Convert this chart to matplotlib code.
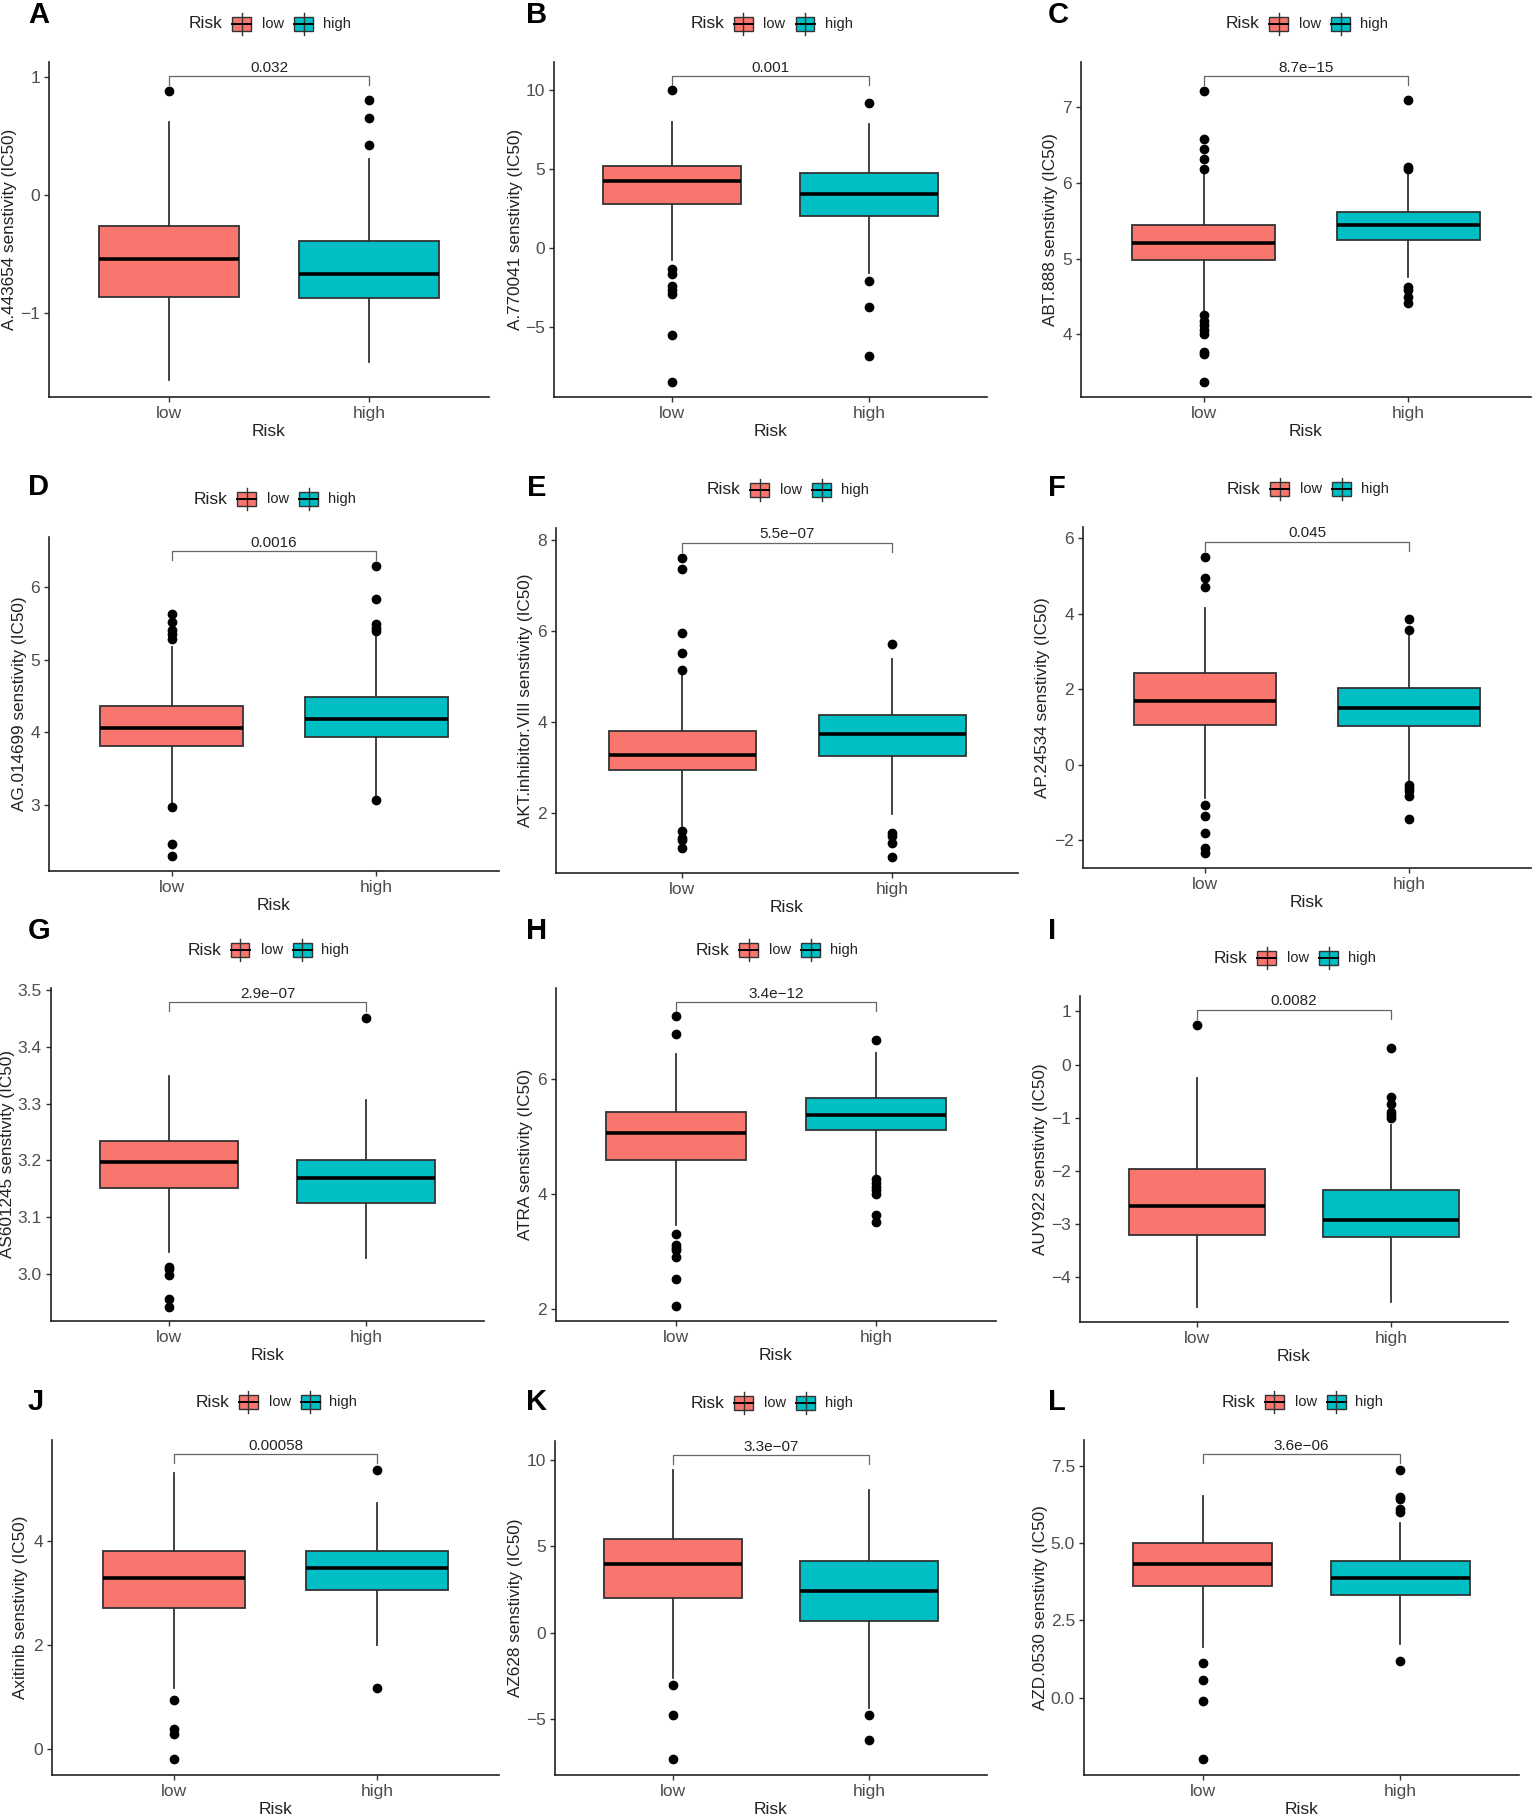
import matplotlib.pyplot as plt
from matplotlib.patches import Rectangle
from matplotlib.lines import Line2D

plt.rcParams['font.family'] = ['Liberation Sans', 'DejaVu Sans']

#==================================
# datos
#==================================
groups = ["low", "high"]
colors = ["#F8766D", "#00BFC4"]

letters = ["A", "B", "C", "D", "E", "F", "G", "H", "I", "J", "K", "L"]
drugs = ["A.443654", "A.770041", "ABT.888", "AG.014699", "AKT.inhibitor.VIII", "AP.24534",
         "AS601245", "ATRA", "AUY922", "Axitinib", "AZ628", "AZD.0530"]
p_values = ["0.032", "0.001", "8.7e\u221215", "0.0016", "5.5e\u221207", "0.045",
            "2.9e\u221207", "3.4e\u221212", "0.0082", "0.00058", "3.3e\u221207", "3.6e\u221206"]

# (whislo, q1, med, q3, whishi)
low_box = [(-1.57, -0.86, -0.545, -0.26, 0.62),
           (-0.72, 2.81, 4.29, 5.24, 8.0),
           (4.30, 4.98, 5.21, 5.45, 6.13),
           (3.02, 3.81, 4.06, 4.36, 5.18),
           (1.72, 2.94, 3.28, 3.81, 5.05),
           (-0.87, 1.05, 1.70, 2.44, 4.16),
           (3.039, 3.152, 3.198, 3.234, 3.349),
           (3.46, 4.60, 5.06, 5.43, 6.44),
           (-4.55, -3.21, -2.66, -1.97, -0.25),
           (1.16, 2.70, 3.28, 3.81, 5.30),
           (-2.62, 1.98, 3.99, 5.40, 9.42),
           (1.65, 3.62, 4.33, 5.0, 6.53)]
high_box = [(-1.41, -0.87, -0.67, -0.39, 0.30),
            (-1.56, 2.07, 3.47, 4.8, 7.86),
            (4.76, 5.25, 5.45, 5.62, 6.15),
            (3.12, 3.94, 4.19, 4.49, 5.34),
            (1.98, 3.24, 3.73, 4.15, 5.38),
            (-0.39, 1.03, 1.52, 2.03, 3.41),
            (3.028, 3.126, 3.169, 3.201, 3.307),
            (4.31, 5.12, 5.37, 5.67, 6.45),
            (-4.47, -3.25, -2.92, -2.35, -1.14),
            (2.0, 3.06, 3.47, 3.81, 4.72),
            (-4.35, 0.66, 2.43, 4.14, 8.27),
            (1.74, 3.33, 3.87, 4.41, 5.67)]

low_out = [[0.88],
           [10.0, -1.29, -1.6, -2.4, -2.6, -2.9, -5.45, -8.48],
           [7.22, 6.58, 6.45, 6.32, 6.19, 4.25, 4.18, 4.12, 4.05, 4.0, 3.77, 3.74, 3.37],
           [5.63, 5.52, 5.41, 5.36, 5.28, 2.97, 2.46, 2.3],
           [7.6, 7.36, 5.96, 5.51, 5.13, 1.6, 1.45, 1.4, 1.23],
           [5.51, 4.96, 4.71, -1.07, -1.36, -1.8, -2.2, -2.33],
           [3.013, 3.009, 2.998, 2.957, 2.943],
           [7.09, 6.79, 3.31, 3.12, 3.07, 3.03, 2.91, 2.53, 2.06],
           [0.75],
           [0.94, 0.37, 0.28, -0.21],
           [-3.06, -4.78, -7.34],
           [1.13, 0.59, -0.11, -1.99]]
high_out = [[0.805, 0.65, 0.42],
            [9.2, -2.03, -3.72, -6.83],
            [7.1, 6.21, 6.19, 4.62, 4.58, 4.49, 4.41],
            [6.29, 5.84, 5.49, 5.43, 5.39, 3.07],
            [5.71, 1.56, 1.5, 1.34, 1.04],
            [3.87, 3.58, -0.52, -0.61, -0.7, -0.83, -1.42],
            [3.45],
            [6.68, 4.26, 4.19, 4.13, 4.08, 4.01, 3.64, 3.52],
            [0.32, -0.61, -0.75, -0.9, -0.95, -1.01],
            [5.37, 1.16],
            [-4.8, -6.2],
            [7.37, 6.51, 6.42, 6.10, 6.02, 1.2]]

y_limits = [(-1.71, 1.125), (-9.4, 11.8), (3.17, 7.6), (2.09, 6.69),
            (0.68, 8.26), (-2.73, 6.3), (2.918, 3.503), (1.80, 7.58),
            (-4.84, 1.29), (-0.51, 5.94), (-8.25, 11.1), (-2.5, 8.34)]
y_ticks = [[-1, 0, 1], [-5, 0, 5, 10], [4, 5, 6, 7], [3, 4, 5, 6],
           [2, 4, 6, 8], [-2, 0, 2, 4, 6], [3.0, 3.1, 3.2, 3.3, 3.4, 3.5], [2, 4, 6],
           [-4, -3, -2, -1, 0, 1], [0, 2, 4], [-5, 0, 5, 10], [0.0, 2.5, 5.0, 7.5]]

#==================================
# layout (pixeles de la figura)
#==================================
W, H = 1535, 1817
# left, right, top, bottom de cada panel
axes_px = [(49, 489, 62, 397), (554, 987, 62, 397), (1081, 1531, 62, 397),
           (49, 499, 537, 871), (556, 1018, 528, 873), (1083, 1531, 527, 868),
           (51, 484, 988, 1321), (556, 996, 988, 1321), (1080, 1508, 996, 1322),
           (52, 499, 1440, 1775), (555, 987, 1441, 1775), (1084, 1519, 1440, 1775)]
letter_px = [(28, 15), (526, 15), (1048, 15), (28, 487), (527, 488), (1048, 488),
             (28, 931), (526, 931), (1048, 931), (28, 1402), (526, 1402), (1048, 1402)]
# distancia (px) entre el eje y el borde derecho del titulo del eje y
ylabel_gap = [32, 31, 23, 22, 23, 33, 36, 23, 32, 24, 32, 36]


def fx(x):
    return x / W


def fy(y):
    return 1 - y / H


def legend_key(fig, x0, yc, color):
    # caja pequena con mediana y bigotes, como la clave de ggplot
    w, h = 19, 14
    fig.add_artist(Line2D([fx(x0 + w / 2)] * 2, [fy(yc - h / 2 - 4), fy(yc + h / 2 + 4)],
                          transform=fig.transFigure, color='#333333', lw=1))
    fig.add_artist(Rectangle((fx(x0), fy(yc + h / 2)), w / W, h / H, transform=fig.transFigure,
                             facecolor=color, edgecolor='#333333', lw=1))
    fig.add_artist(Line2D([fx(x0), fx(x0 + w)], [fy(yc)] * 2,
                          transform=fig.transFigure, color='black', lw=1.4))


fig = plt.figure(figsize=(W / 100, H / 100), dpi=100)

for i in range(12):
    l, r, t, b = axes_px[i]
    ax = fig.add_axes([fx(l), fy(b), (r - l) / W, (b - t) / H])

    stats = []
    for j, (s, fl) in enumerate([(low_box[i], low_out[i]), (high_box[i], high_out[i])]):
        stats.append(dict(whislo=s[0], q1=s[1], med=s[2], q3=s[3], whishi=s[4],
                          fliers=fl, label=groups[j]))
    bp = ax.bxp(stats, positions=[1, 2], widths=0.7, patch_artist=True, showcaps=False,
                boxprops=dict(edgecolor='#333333', linewidth=1.3),
                whiskerprops=dict(color='#333333', linewidth=1.3),
                medianprops=dict(color='black', linewidth=2.6),
                flierprops=dict(marker='o', markerfacecolor='black',
                                markeredgecolor='black', markersize=6))
    for patch, c in zip(bp['boxes'], colors):
        patch.set_facecolor(c)

    ax.set_xlim(0.4, 2.6)
    ax.set_ylim(*y_limits[i])
    ax.set_yticks(y_ticks[i])
    ax.set_xticks([1, 2])
    ax.set_xticklabels(groups)

    for side in ['top', 'right']:
        ax.spines[side].set_visible(False)
    for side in ['left', 'bottom']:
        ax.spines[side].set_linewidth(1.2)
        ax.spines[side].set_color('#222222')
    ax.tick_params(length=3.5, width=1, color='#333333', labelcolor='#4D4D4D',
                   labelsize=12.5, pad=3)
    ax.set_xlabel("Risk", fontsize=12.5, color='#222222', labelpad=2)
    ax.set_ylabel(drugs[i] + " senstivity (IC50)", fontsize=12.3, color='#222222')
    ax.yaxis.set_label_coords(-ylabel_gap[i] / (r - l), 0.5)

    # corchete de comparacion con p-valor
    tr = ax.get_xaxis_transform()
    ax.plot([1, 1, 2, 2], [0.93, 0.957, 0.957, 0.93], transform=tr,
            color='#666666', lw=0.9, clip_on=False)
    ax.text(1.5, 0.962, p_values[i], transform=tr, ha='center', va='bottom',
            fontsize=11, color='#222222')

    # leyenda arriba
    cx = (l + r) / 2
    ly = t - 38
    fig.text(fx(cx - 80), fy(ly), "Risk", fontsize=12.5, color='#222222', ha='left', va='center')
    legend_key(fig, cx - 37, ly, colors[0])
    fig.text(fx(cx - 7), fy(ly), "low", fontsize=10.5, color='#222222', ha='left', va='center')
    legend_key(fig, cx + 25, ly, colors[1])
    fig.text(fx(cx + 54), fy(ly), "high", fontsize=10.5, color='#222222', ha='left', va='center')

    # letra del panel
    fig.text(fx(letter_px[i][0]), fy(letter_px[i][1]), letters[i], fontsize=21,
             fontweight='bold', ha='left', va='center')

fig.savefig("out.png", dpi=100, facecolor='white')
